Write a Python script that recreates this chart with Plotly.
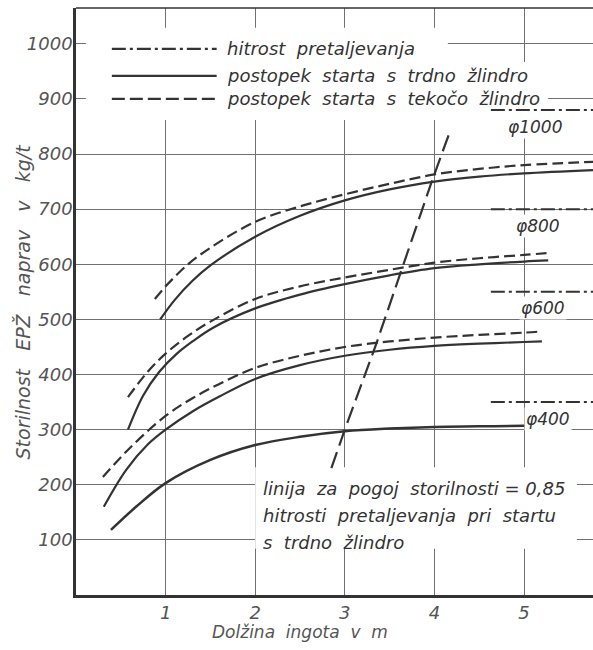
import plotly.graph_objects as go

# ---------------- data ----------------
x_trdno_1000 = [0.94, 1.1, 1.3, 1.5, 2.0, 2.5, 3.0, 3.5, 4.0, 4.5, 5.0, 5.77]
y_trdno_1000 = [500, 535, 570, 598, 650, 688, 716, 736, 750, 759, 765, 771]
x_tekoce_1000 = [0.88, 1.0, 1.25, 1.5, 2.0, 2.5, 3.0, 3.5, 4.0, 4.5, 5.0, 5.77]
y_tekoce_1000 = [537, 560, 600, 630, 677, 705, 727, 746, 763, 773, 780, 786]

x_trdno_800 = [0.58, 0.75, 0.93, 1.12, 1.3, 1.53, 2.0, 2.5, 3.0, 3.5, 4.0, 4.5, 5.0, 5.27]
y_trdno_800 = [300, 362, 405, 437, 460, 485, 520, 545, 564, 580, 593, 600, 605, 607]
x_tekoce_800 = [0.58, 0.8, 1.0, 1.25, 1.5, 2.0, 2.5, 3.0, 3.5, 4.0, 4.5, 5.0, 5.31]
y_tekoce_800 = [359, 405, 438, 470, 496, 537, 560, 576, 590, 603, 611, 617, 621]

x_trdno_600 = [0.31, 0.56, 0.8, 1.0, 1.3, 1.6, 2.0, 2.5, 3.0, 3.5, 4.0, 4.5, 5.0, 5.2]
y_trdno_600 = [160, 227, 273, 300, 333, 360, 392, 417, 434, 445, 452, 456, 459, 460]
x_tekoce_600 = [0.30, 0.59, 1.0, 1.3, 1.6, 2.0, 2.5, 3.0, 3.5, 4.0, 4.5, 5.0, 5.18]
y_tekoce_600 = [214, 265, 325, 357, 383, 412, 434, 450, 460, 467, 472, 476, 478]

x_trdno_400 = [0.39, 0.67, 1.0, 1.5, 2.0, 2.5, 3.0, 3.5, 4.0, 4.5, 5.0, 5.35]
y_trdno_400 = [118, 160, 203, 245, 272, 287, 297, 302, 305, 306, 307, 307]

# line for condition productivity = 0.85 of melting rate
x_pogoj = [2.85, 3.0, 3.35, 3.63, 3.97, 4.16]
y_pogoj = [230, 300, 455, 590, 750, 835]

# melting rate (hitrost pretaljevanja) per ingot diameter
premeri = ["φ1000", "φ800", "φ600", "φ400"]
hitrost = [880, 700, 550, 350]
hitrost_x_start = 4.63

x_ticks = [1, 2, 3, 4, 5]
y_ticks = [100, 200, 300, 400, 500, 600, 700, 800, 900, 1000]

# ---------------- layout constants ----------------
X_MAX = 5.77
Y_MAX = 1065
label_x = [5.12, 5.16, 5.21, 5.27]

INK = "#333333"
GRID = "#707070"
FONT = "DejaVu Sans"

fig = go.Figure()


def add_line(x, y, dash, width=2.2):
    fig.add_trace(go.Scatter(
        x=x, y=y, mode="lines", showlegend=False, hoverinfo="skip",
        line=dict(color=INK, width=width, dash=dash, shape="spline", smoothing=1.0)))


add_line(x_trdno_1000, y_trdno_1000, "solid")
add_line(x_tekoce_1000, y_tekoce_1000, "11px,5px")
add_line(x_trdno_800, y_trdno_800, "solid")
add_line(x_tekoce_800, y_tekoce_800, "11px,5px")
add_line(x_trdno_600, y_trdno_600, "solid")
add_line(x_tekoce_600, y_tekoce_600, "11px,5px")
add_line(x_trdno_400, y_trdno_400, "solid", 2.5)

fig.add_trace(go.Scatter(
    x=x_pogoj, y=y_pogoj, mode="lines", showlegend=False, hoverinfo="skip",
    line=dict(color=INK, width=2.2, dash="17px,7px")))

for name, h, lx in zip(premeri, hitrost, label_x):
    fig.add_trace(go.Scatter(
        x=[hitrost_x_start, X_MAX], y=[h, h], mode="lines", showlegend=False,
        hoverinfo="skip", line=dict(color=INK, width=2, dash="14px,4px,3px,4px")))
    fig.add_annotation(
        x=lx, y=h - 30, xref="x", yref="y", text=name, showarrow=False,
        xanchor="center", yanchor="middle", bgcolor="white", borderpad=1,
        font=dict(family=FONT, size=17, color=INK, style="italic"))

shapes = []
# white backgrounds behind legend and note (between grid and traces)
for x0, x1, y0, y1 in [(0.11, 4.15, 967, 1029), (0.11, 5.27, 862, 967), (2.0, 5.59, 84, 232)]:
    shapes.append(dict(type="rect", xref="x", yref="y", x0=x0, x1=x1, y0=y0, y1=y1,
                       fillcolor="white", line=dict(width=0), layer="between"))
# top frame line
shapes.append(dict(type="line", xref="paper", yref="paper", x0=0, x1=1, y0=1, y1=1,
                   line=dict(color=INK, width=1.5)))

# legend samples
legend_items = [
    ("hitrost  pretaljevanja", "14px,4px,3px,4px", 991),
    ("postopek  starta  s  trdno  žlindro", "solid", 942),
    ("postopek  starta  s  tekočo  žlindro", "13px,5px", 900),
]
for text, dash, yy in legend_items:
    shapes.append(dict(type="line", xref="x", yref="y", x0=0.4, x1=1.57, y0=yy, y1=yy,
                       line=dict(color=INK, width=2.2, dash=dash)))
    fig.add_annotation(x=1.66, y=yy, xref="x", yref="y", text=text, showarrow=False,
                       xanchor="left", yanchor="middle",
                       font=dict(family=FONT, size=18, color=INK, style="italic"))

note_lines = [
    ("linija  za  pogoj  storilnosti = 0,85", 194),
    ("hitrosti  pretaljevanja  pri  startu", 145),
    ("s  trdno  žlindro", 96),
]
for text, yy in note_lines:
    fig.add_annotation(
        x=2.07, y=yy, xref="x", yref="y", showarrow=False, xanchor="left",
        yanchor="middle", text=text,
        font=dict(family=FONT, size=18, color=INK, style="italic"))

# axis titles
fig.add_annotation(
    xref="paper", yref="paper", x=0, y=0.5, xshift=-54, textangle=-90, showarrow=False,
    xanchor="center", yanchor="middle", text="Storilnost   EPŽ   naprav   v   kg/t",
    font=dict(family=FONT, size=19, color="#555", style="italic"))
fig.add_annotation(
    xref="x", yref="paper", x=2.5, y=0, yshift=-37, showarrow=False,
    xanchor="center", yanchor="middle", text="Dolžina  ingota  v  m",
    font=dict(family=FONT, size=17, color="#555", style="italic"))

fig.update_layout(
    width=593, height=650,
    margin=dict(l=76, r=0, t=8, b=55),
    paper_bgcolor="white", plot_bgcolor="white",
    shapes=shapes,
    xaxis=dict(range=[0, X_MAX], tickvals=x_ticks, ticktext=[str(t) for t in x_ticks],
               showgrid=True, gridcolor=GRID, gridwidth=1, zeroline=False,
               showline=True, linecolor=INK, linewidth=2.5, ticks="",
               tickfont=dict(family=FONT, size=18, color="#555", style="italic")),
    yaxis=dict(range=[0, Y_MAX], tickvals=y_ticks, ticktext=[str(t) for t in y_ticks],
               showgrid=True, gridcolor=GRID, gridwidth=1, zeroline=False,
               showline=True, linecolor=INK, linewidth=2.5, ticks="",
               ticklabelstandoff=-3,
               tickfont=dict(family=FONT, size=18, color="#555", style="italic")),
)

fig.write_html("out.html")
